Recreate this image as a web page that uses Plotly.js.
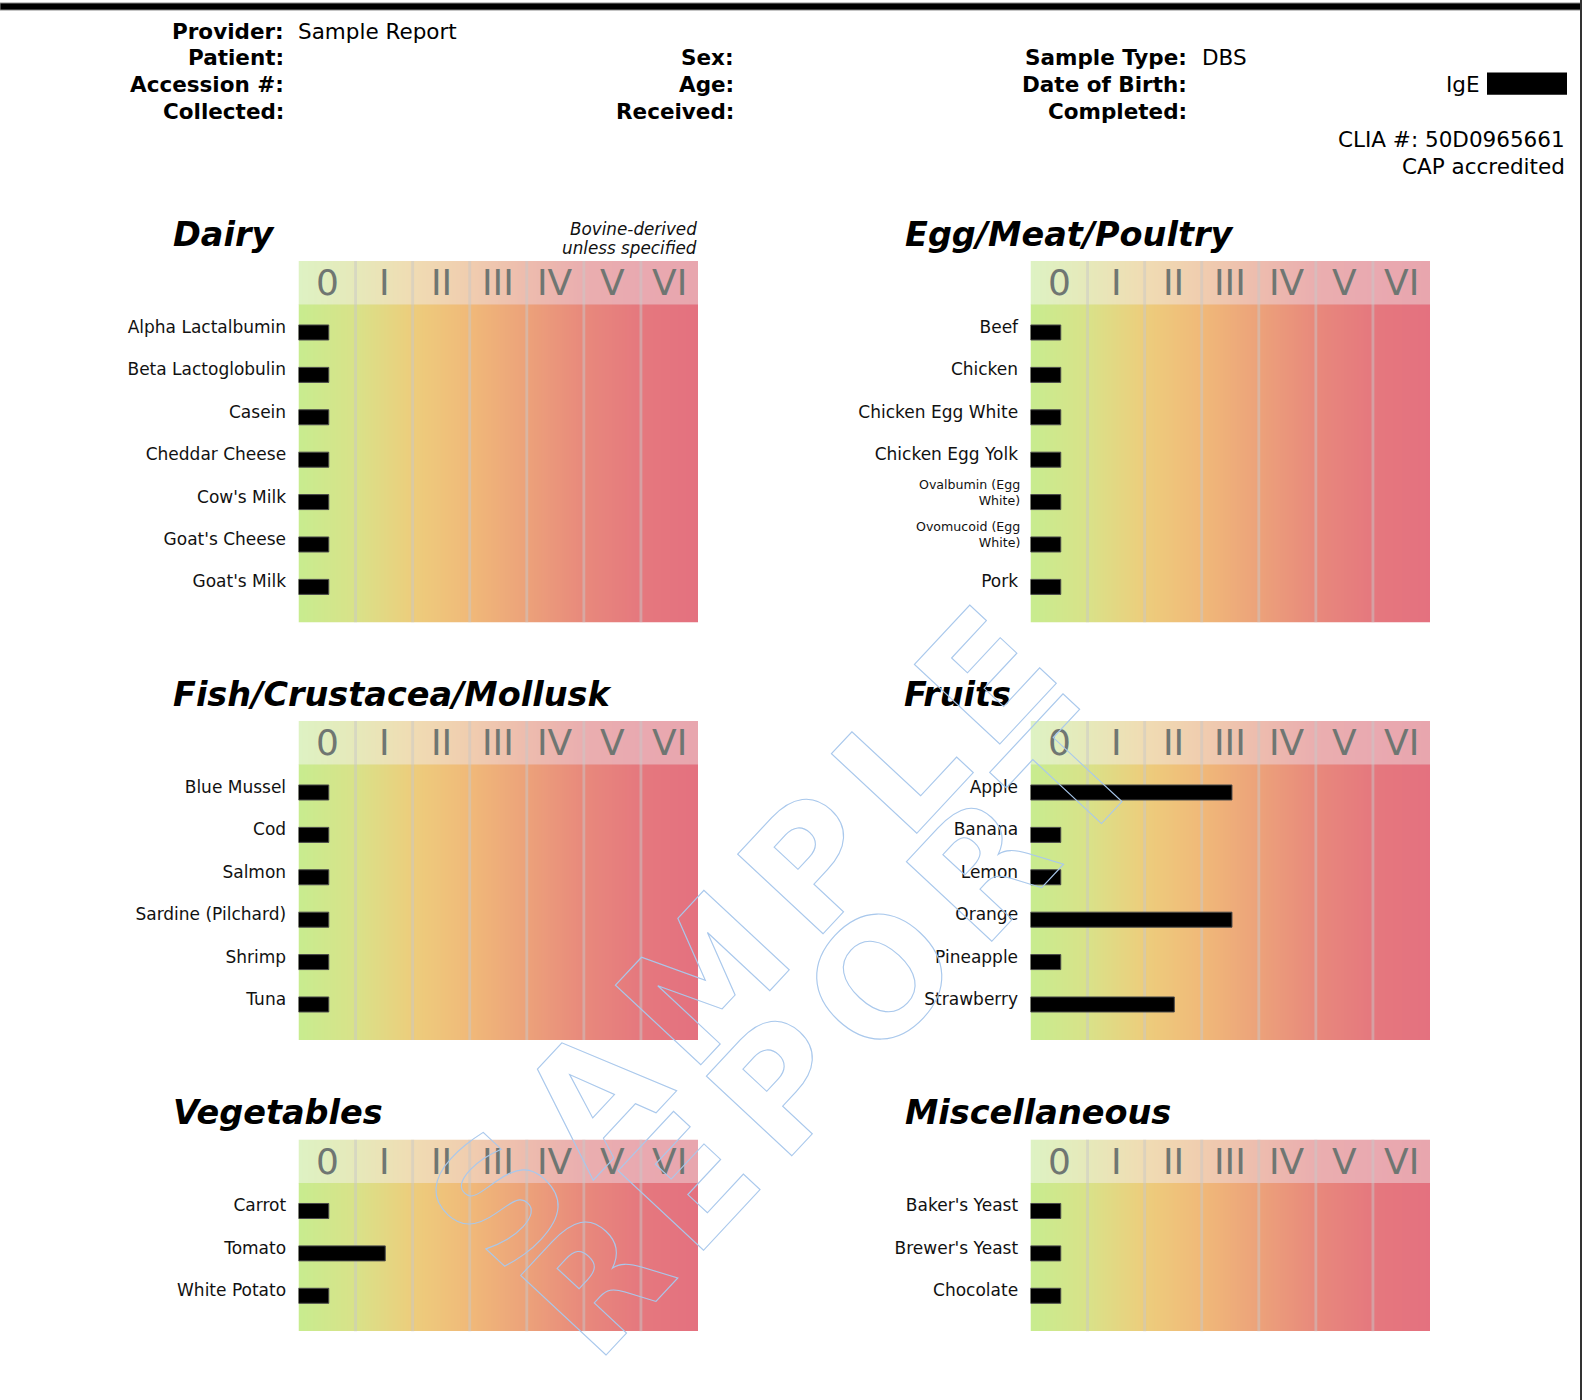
<!DOCTYPE html>
<html>
<head>
<meta charset="utf-8">
<script src="https://cdn.plot.ly/plotly-3.0.1.min.js"></script>
<style>
  html, body { margin: 0; padding: 0; background: #fff; }
  #chart { width: 1582px; height: 1400px; }
</style>
</head>
<body>
<div id="chart"></div>
<script>
// ---- Report data -------------------------------------------------------
const classes = ['0', 'I', 'II', 'III', 'IV', 'V', 'VI'];

const dairyFoods = ['Alpha Lactalbumin', 'Beta Lactoglobulin', 'Casein', 'Cheddar Cheese', "Cow's Milk", "Goat's Cheese", "Goat's Milk"];
const dairyScores = [0.53, 0.53, 0.53, 0.53, 0.53, 0.53, 0.53];

const eggMeatFoods = ['Beef', 'Chicken', 'Chicken Egg White', 'Chicken Egg Yolk', 'Ovalbumin (Egg White)', 'Ovomucoid (Egg White)', 'Pork'];
const eggMeatScores = [0.53, 0.53, 0.53, 0.53, 0.53, 0.53, 0.53];

const fishFoods = ['Blue Mussel', 'Cod', 'Salmon', 'Sardine (Pilchard)', 'Shrimp', 'Tuna'];
const fishScores = [0.53, 0.53, 0.53, 0.53, 0.53, 0.53];

const fruitFoods = ['Apple', 'Banana', 'Lemon', 'Orange', 'Pineapple', 'Strawberry'];
const fruitScores = [3.53, 0.53, 0.53, 3.53, 0.53, 2.52];

const vegFoods = ['Carrot', 'Tomato', 'White Potato'];
const vegScores = [0.53, 1.52, 0.53];

const miscFoods = ["Baker's Yeast", "Brewer's Yeast", 'Chocolate'];
const miscScores = [0.53, 0.53, 0.53];

const dairyNote = ['Bovine-derived', 'unless specified'];

const infoLeftKeys = ['Provider:', 'Patient:', 'Accession #:', 'Collected:'];
const infoLeftValues = ['Sample Report', '', '', ''];
const infoMidKeys = ['', 'Sex:', 'Age:', 'Received:'];
const infoRightKeys = ['', 'Sample Type:', 'Date of Birth:', 'Completed:'];
const infoRightValues = ['', 'DBS', '', ''];
const assayLabel = 'IgE';
const labLines = ['CLIA #: 50D0965661', 'CAP accredited'];
const watermarkLines = ['SAMPLE', 'REPORT'];

// ---- Page geometry ------------------------------------------------------
const W = 1582, H = 1400;
const ROW_PX = 42.4;       // height of one food row
const HEAD_PX = 43.5;      // height of the class header band
const LABEL_PAD = 0.53;    // rows between body top and first food
const BAR_THICK = 0.354;   // bar thickness in rows
const BAR_SHIFT = 0.13;    // bars sit slightly below their label
const FONT = 'DejaVu Sans';
const px = v => v / W;
const py = v => 1 - v / H;

const LEFT_COL = [298.5, 698];
const RIGHT_COL = [1030.5, 1430];

const panels = [
  { title: 'Dairy', foods: dairyFoods, scores: dairyScores, cols: LEFT_COL, top: 261, titleX: 170.5 },
  { title: 'Egg/Meat/Poultry', foods: eggMeatFoods, scores: eggMeatScores, cols: RIGHT_COL, top: 261, titleX: 902.5 },
  { title: 'Fish/Crustacea/Mollusk', foods: fishFoods, scores: fishScores, cols: LEFT_COL, top: 721, titleX: 170.5 },
  { title: 'Fruits', foods: fruitFoods, scores: fruitScores, cols: RIGHT_COL, top: 721, titleX: 902.5 },
  { title: 'Vegetables', foods: vegFoods, scores: vegScores, cols: LEFT_COL, top: 1139.5, titleX: 170.5 },
  { title: 'Miscellaneous', foods: miscFoods, scores: miscScores, cols: RIGHT_COL, top: 1139.5, titleX: 902.5 }
];

// class gradient, one colour per class boundary
const bodyColors = ['#c8ec8f', '#d9e289', '#edcd7c', '#f0b979', '#eca27a', '#e8897c', '#e5787e', '#e4717f'];
const headColors = ['#def2c3', '#e6e9ba', '#f0dcb3', '#f0cdaf', '#edbcae', '#eaaeaf', '#e9a9b0', '#e8a6ae'];
const toScale = cols => cols.map((c, i) => [i / (cols.length - 1), c]);

const boundaries = classes.map((_, k) => k).concat([classes.length]);
const dividers = boundaries.slice(1, -1);

const data = [];
const annotations = [];
const layout = {
  width: W, height: H,
  margin: { l: 0, r: 0, t: 0, b: 0 },
  paper_bgcolor: '#ffffff',
  plot_bgcolor: 'rgba(0,0,0,0)',
  showlegend: false,
  hovermode: false,
  barmode: 'overlay',
  font: { family: FONT, color: '#000' },
  shapes: [],
  annotations: annotations
};

// heatmap rows whose cell edges land exactly on [a, b]
const rowCentres = (a, b) => [a + (b - a) / 4, b - (b - a) / 4];

panels.forEach((p, i) => {
  const s = i === 0 ? '' : String(i + 1);
  const n = p.foods.length;
  const bodyTop = -LABEL_PAD;
  const bodyBottom = n - LABEL_PAD + 0.5;
  const headTop = bodyTop - HEAD_PX / ROW_PX;
  const pxBottom = p.top + HEAD_PX + (n + 0.5) * ROW_PX;
  const idx = p.foods.map((_, k) => k);

  layout['xaxis' + s] = {
    domain: [px(p.cols[0]), px(p.cols[1])],
    range: [0, classes.length],
    anchor: 'y' + s,
    ticks: '', showticklabels: false, showgrid: false, zeroline: false, showline: false, fixedrange: true
  };
  layout['yaxis' + s] = {
    domain: [py(pxBottom), py(p.top)],
    range: [bodyBottom, headTop],
    anchor: 'x' + s,
    tickmode: 'array',
    tickvals: idx,
    ticktext: p.foods.map(f => f.length > 20 ? '' : f),
    ticks: 'outside', ticklen: 8, tickcolor: 'rgba(0,0,0,0)',
    tickfont: { family: FONT, size: 17, color: '#111' },
    showgrid: false, zeroline: false, showline: false, fixedrange: true
  };

  const z = [boundaries, boundaries];
  // header band
  data.push({
    type: 'heatmap', xaxis: 'x' + s, yaxis: 'y' + s,
    x: boundaries, y: rowCentres(headTop, bodyTop), z: z,
    zmin: 0, zmax: classes.length, zsmooth: 'best',
    colorscale: toScale(headColors), showscale: false, hoverinfo: 'skip'
  });
  // body
  data.push({
    type: 'heatmap', xaxis: 'x' + s, yaxis: 'y' + s,
    x: boundaries, y: rowCentres(bodyTop, bodyBottom), z: z,
    zmin: 0, zmax: classes.length, zsmooth: 'best',
    colorscale: toScale(bodyColors), showscale: false, hoverinfo: 'skip'
  });
  // class dividers
  data.push({
    type: 'bar', orientation: 'v', xaxis: 'x' + s, yaxis: 'y' + s,
    x: dividers, y: dividers.map(() => bodyBottom - headTop), base: headTop,
    width: 0.05, marker: { color: 'rgba(200,200,200,0.5)', line: { width: 0 } },
    hoverinfo: 'skip'
  });
  // allergen scores
  data.push({
    type: 'bar', orientation: 'h', xaxis: 'x' + s, yaxis: 'y' + s,
    y: idx, x: p.scores,
    width: BAR_THICK, offset: BAR_SHIFT - BAR_THICK / 2,
    marker: { color: '#000', line: { color: '#4a4a4a', width: 1 } },
    hoverinfo: 'skip'
  });

  // class numerals in the header band
  classes.forEach((c, k) => {
    annotations.push({
      xref: 'x' + s, yref: 'y' + s, x: k + 0.5, y: (headTop + bodyTop) / 2,
      text: c, showarrow: false, xanchor: 'center', yanchor: 'middle',
      font: { family: FONT, size: 36, color: '#6f7672' }
    });
  });

  // long food names are set small on two lines
  p.foods.forEach((f, k) => {
    if (f.length <= 20) return;
    const cut = f.lastIndexOf(' ');
    annotations.push({
      xref: 'paper', yref: 'y' + s, x: px(p.cols[0] - 9), y: k - 0.1,
      text: f.slice(0, cut) + '<br>' + f.slice(cut + 1),
      showarrow: false, xanchor: 'right', yanchor: 'middle', align: 'right',
      font: { family: FONT, size: 12.6, color: '#111' }
    });
  });

  // panel title
  annotations.push({
    xref: 'paper', yref: 'paper', x: px(p.titleX), y: py(p.top - 27),
    text: p.title, showarrow: false, xanchor: 'left', yanchor: 'middle',
    font: { family: FONT, size: 33.5, weight: 'bold', style: 'italic', color: '#000' }
  });
});

// dairy footnote
dairyNote.forEach((t, k) => {
  annotations.push({
    xref: 'paper', yref: 'paper', x: px(699), y: py(229 + k * 19),
    text: t, showarrow: false, xanchor: 'right', yanchor: 'middle',
    font: { family: FONT, size: 16.8, style: 'italic', color: '#111' }
  });
});

// patient / sample header
const INFO_ROWS = [31.3, 57.5, 84.8, 111];
const infoKey = (text, xRight, row) => {
  if (!text) return;
  annotations.push({
    xref: 'paper', yref: 'paper', x: px(xRight), y: py(INFO_ROWS[row]),
    text: text, showarrow: false, xanchor: 'right', yanchor: 'middle',
    font: { family: FONT, size: 21.5, weight: 'bold', color: '#000' }
  });
};
const infoValue = (text, xLeft, row) => {
  if (!text) return;
  annotations.push({
    xref: 'paper', yref: 'paper', x: px(xLeft), y: py(INFO_ROWS[row]),
    text: text, showarrow: false, xanchor: 'left', yanchor: 'middle',
    font: { family: FONT, size: 21.5, color: '#000' }
  });
};
infoLeftKeys.forEach((t, r) => infoKey(t, 285.5, r));
infoLeftValues.forEach((t, r) => infoValue(t, 296, r));
infoMidKeys.forEach((t, r) => infoKey(t, 735.5, r));
infoRightKeys.forEach((t, r) => infoKey(t, 1188.5, r));
infoRightValues.forEach((t, r) => infoValue(t, 1200, r));

annotations.push({
  xref: 'paper', yref: 'paper', x: px(1482), y: py(84),
  text: assayLabel, showarrow: false, xanchor: 'right', yanchor: 'middle',
  font: { family: FONT, size: 21.5, color: '#000' }
});
labLines.forEach((t, k) => {
  annotations.push({
    xref: 'paper', yref: 'paper', x: px(1567), y: py(140 + k * 26.5),
    text: t, showarrow: false, xanchor: 'right', yanchor: 'middle',
    font: { family: FONT, size: 21.5, color: '#000' }
  });
});

// outlined watermark, drawn last so it sits over everything
const WM_CENTRES = [[748, 932], [838, 1024]];
watermarkLines.forEach((t, k) => {
  annotations.push({
    xref: 'paper', yref: 'paper', x: px(WM_CENTRES[k][0]), y: py(WM_CENTRES[k][1]),
    text: t, showarrow: false, xanchor: 'center', yanchor: 'middle', textangle: -47,
    font: { family: FONT, size: 160, weight: 'bold', color: 'rgba(0,0,0,0)' }
  });
});

// page furniture
layout.shapes.push(
  { type: 'rect', xref: 'paper', yref: 'paper', x0: 0, x1: px(1581), y0: py(10), y1: py(3),
    fillcolor: '#000', line: { color: '#8a8a8a', width: 1 }, layer: 'above' },
  { type: 'line', xref: 'paper', yref: 'paper', x0: px(1581), x1: px(1581), y0: 0, y1: 1,
    line: { color: '#333', width: 2 }, layer: 'above' },
  { type: 'rect', xref: 'paper', yref: 'paper', x0: px(1487), x1: px(1567), y0: py(94.8), y1: py(72.6),
    fillcolor: '#000', line: { width: 0 }, layer: 'above' }
);

Plotly.newPlot('chart', data, layout, { displayModeBar: false, staticPlot: true }).then(gd => {
  gd.querySelectorAll('.annotation text.annotation-text').forEach(t => {
    if (watermarkLines.includes(t.textContent)) {
      t.style.fill = 'none';
      t.style.stroke = '#a9c8ec';
      t.style.strokeWidth = '1.1px';
      t.style.letterSpacing = '20px';
    }
  });
});
</script>
</body>
</html>
